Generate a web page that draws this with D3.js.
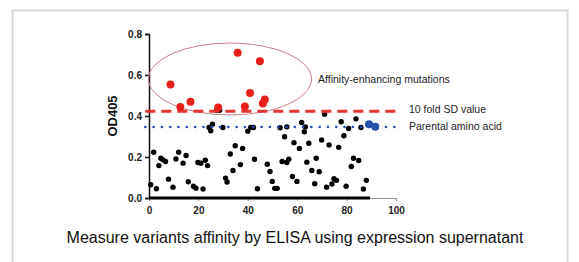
<!DOCTYPE html>
<html>
<head>
<meta charset="utf-8">
<script src="https://cdn.jsdelivr.net/npm/d3@7"></script>
<style>
	body { margin: 0; background: #fff; }
	text { font-family: 'Liberation Sans', Arial, sans-serif; }
</style>
</head>
<body>
<div id="chart"></div>
<script>
// data
var blackX = [0.7, 1.9, 3.0, 4.0, 4.8, 5.7, 6.7, 7.9, 9.7, 10.9, 12.0, 13.8, 15.0, 15.9, 18.0, 19.0, 19.8, 21.0, 21.9, 22.8, 23.7,
	24.3, 25.0, 25.7, 27.4, 28.6, 29.9, 31.0, 31.6, 32.9, 34.0, 34.9, 37.0, 37.9, 40.0, 41.2, 42.3, 42.7, 43.9, 47.9, 49.0, 49.9,
	50.9, 51.9, 53.1, 53.9, 54.9, 55.8, 55.8, 56.6, 58.1, 58.7, 59.9, 60.9, 61.8, 62.9, 63.3, 63.9, 64.7, 65.9, 67.1, 67.7, 68.9,
	69.9, 71.1, 71.9, 72.9, 74.1, 74.9, 75.9, 76.8, 77.8, 78.9, 79.8, 80.8, 81.9, 82.8, 83.8, 84.9, 85.8, 86.8, 88.0]
var blackY = [0.065, 0.223, 0.045, 0.158, 0.194, 0.186, 0.178, 0.092, 0.053, 0.19, 0.223, 0.17, 0.207, 0.079, 0.057, 0.048, 0.173, 0.17, 0.044, 0.184, 0.158,
	0.344, 0.328, 0.36, 0.428, 0.428, 0.344, 0.097, 0.078, 0.215, 0.134, 0.255, 0.163, 0.242, 0.326, 0.344, 0.344, 0.189, 0.045, 0.165, 0.129, 0.081,
	0.047, 0.047, 0.343, 0.178, 0.299, 0.173, 0.347, 0.189, 0.105, 0.27, 0.081, 0.242, 0.368, 0.323, 0.347, 0.175, 0.267, 0.134, 0.07, 0.194, 0.128,
	0.283, 0.409, 0.053, 0.259, 0.068, 0.094, 0.086, 0.247, 0.372, 0.304, 0.057, 0.339, 0.154, 0.194, 0.386, 0.183, 0.344, 0.044, 0.086]
var redX = [8.7, 12.7, 16.8, 28.0, 35.9, 44.9, 40.9, 38.8, 46.1, 46.9]
var redY = [0.554, 0.444, 0.469, 0.441, 0.708, 0.667, 0.512, 0.446, 0.461, 0.48]
var blueX = [89.1, 91.6]
var blueY = [0.36, 0.347]

var sdValue = 0.423,
		parentalValue = 0.346

var xTicks = [0, 20, 40, 60, 80, 100],
		yTicks = [0, 0.2, 0.4, 0.6, 0.8]

var labels = { ellipse: 'Affinity-enhancing mutations', sd: '10 fold SD value', parental: 'Parental amino acid' }
var title = 'Measure variants affinity by ELISA using expression supernatant'

// add svg tag
var visWidth = 579,
		visHeight = 262

var vis = d3.select('#chart')
	.append('svg')
		.attr('width', visWidth)
		.attr('height', visHeight)

// frame
vis.append('rect')
	.attr('x', 12.5)
	.attr('y', 10.5)
	.attr('width', 555)
	.attr('height', 270)
	.attr('fill', 'none')
	.attr('stroke', '#d8d8d8')
	.attr('stroke-width', 2)

// scales
var x = d3.scaleLinear().domain([0, 100]).range([149, 396])
var y = d3.scaleLinear().domain([0, 0.8]).range([198, 34])

// y axis
var yAxis = vis.append('g')
	.attr('transform', 'translate(149,0)')
	.call(d3.axisLeft(y).tickValues(yTicks).tickFormat(d3.format('.1f')).tickSize(4).tickPadding(3))
yAxis.select('.domain').attr('stroke', '#111').attr('stroke-width', 1.5)
yAxis.selectAll('.tick line').attr('stroke', '#111').attr('stroke-width', 1.5)
yAxis.selectAll('.tick text')
	.attr('font-size', 10)
	.attr('font-weight', 'bold')
	.attr('fill', '#222')

// x axis
var xAxis = vis.append('g')
	.attr('transform', 'translate(0,198)')
	.call(d3.axisBottom(x).tickValues(xTicks).tickSize(3).tickPadding(6))
xAxis.select('.domain').attr('stroke', '#999').attr('stroke-width', 1.2)
xAxis.selectAll('.tick line').attr('stroke', '#999')
xAxis.selectAll('.tick text')
	.attr('font-size', 10)
	.attr('font-weight', 'bold')
	.attr('fill', '#222')

// thick black part of the x axis
vis.append('line')
	.attr('x1', x(0))
	.attr('x2', x(89.5))
	.attr('y1', y(0))
	.attr('y2', y(0))
	.attr('stroke', '#000')
	.attr('stroke-width', 3)

// y label
vis.append('text')
	.attr('transform', 'translate(117,' + y(0.4) + ') rotate(-90)')
	.attr('text-anchor', 'middle')
	.attr('font-size', 13)
	.attr('font-weight', 'bold')
	.attr('fill', '#111')
	.text('OD405')

// ellipse
vis.append('ellipse')
	.attr('cx', 230)
	.attr('cy', 79)
	.attr('rx', 81.5)
	.attr('ry', 36)
	.attr('fill', 'none')
	.attr('stroke', '#c8808c')
	.attr('stroke-width', 1)

// black points
vis.append('g').selectAll('circle')
		.data(blackX).enter()
	.append('circle')
		.attr('cx', function(d){ return x(d) })
		.attr('cy', function(d, i){ return y(blackY[i]) })
		.attr('r', 2.7)
		.attr('fill', '#000')

// threshold lines
vis.append('line')
	.attr('x1', x(-1.5))
	.attr('x2', x(100))
	.attr('y1', y(sdValue))
	.attr('y2', y(sdValue))
	.attr('stroke', '#e8352f')
	.attr('stroke-width', 3)
	.attr('stroke-dasharray', '10,6')

vis.append('line')
	.attr('x1', x(-1.5))
	.attr('x2', x(100))
	.attr('y1', y(parentalValue))
	.attr('y2', y(parentalValue))
	.attr('stroke', '#2b4fb5')
	.attr('stroke-width', 2.6)
	.attr('stroke-linecap', 'round')
	.attr('stroke-dasharray', '0.1,8.2')

// red points
vis.append('g').selectAll('circle')
		.data(redX).enter()
	.append('circle')
		.attr('cx', function(d){ return x(d) })
		.attr('cy', function(d, i){ return y(redY[i]) })
		.attr('r', 4)
		.attr('fill', '#e8201c')

// blue points
vis.append('g').selectAll('circle')
		.data(blueX).enter()
	.append('circle')
		.attr('cx', function(d){ return x(d) })
		.attr('cy', function(d, i){ return y(blueY[i]) })
		.attr('r', 4)
		.attr('fill', '#2450a8')

// labels
vis.append('text')
	.attr('x', 318)
	.attr('y', 83)
	.attr('font-size', 10.5)
	.attr('fill', '#222')
	.text(labels.ellipse)

vis.append('text')
	.attr('x', 409)
	.attr('y', 113)
	.attr('font-size', 10.5)
	.attr('fill', '#222')
	.text(labels.sd)

vis.append('text')
	.attr('x', 409)
	.attr('y', 130)
	.attr('font-size', 10.5)
	.attr('fill', '#222')
	.text(labels.parental)

// title
vis.append('text')
	.attr('x', 295)
	.attr('y', 243)
	.attr('text-anchor', 'middle')
	.attr('font-size', 16)
	.attr('fill', '#111')
	.text(title)
</script>
</body>
</html>
